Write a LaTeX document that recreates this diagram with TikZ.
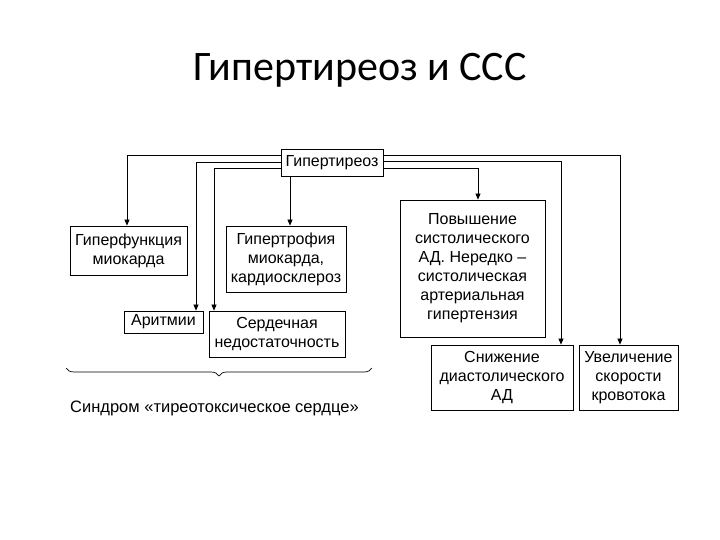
\documentclass[tikz,border=0pt]{standalone}
\usepackage{fontspec}
\setmainfont{Liberation Sans}
\newfontfamily\titlefont{Carlito}
\usetikzlibrary{arrows.meta,decorations.pathreplacing}
\begin{document}
\begin{tikzpicture}[x=1pt,y=-1pt,
  bx/.style={draw,line width=0.8pt,inner sep=0pt,align=center,font=\fontsize{16}{19}\selectfont},
  ar/.style={-{Triangle[length=6pt,width=5pt]},line width=0.7pt}]
\useasboundingbox (0,0) rectangle (720,540);
\node[font=\titlefont\fontsize{42}{46}\selectfont] (title) at (360,70) {Гипертиреоз и ССС};
\node[bx,minimum width=102pt,minimum height=27pt] (g) at (332,163) {Гипертиреоз};
\node[bx,minimum width=117pt,minimum height=49pt] (hf) at (128.5,250.5) {Гиперфункция\\миокарда};
\node[bx,minimum width=120pt,minimum height=66pt] (ht) at (286,259) {Гипертрофия\\миокарда,\\кардиосклероз};
\node[bx,minimum width=79pt,minimum height=22pt] (ar) at (163.5,322) {Аритмии};
\node[bx,minimum width=136pt,minimum height=46pt] (sn) at (277,334) {Сердечная\\недостаточность};
\node[bx,minimum width=145pt,minimum height=137pt] (pv) at (472.5,268.5) {Повышение\\систолического\\АД. Нередко –\\систолическая\\артериальная\\гипертензия};
\node[bx,minimum width=142pt,minimum height=65pt] (sd) at (502,377.5) {Снижение\\диастолического\\АД};
\node[bx,minimum width=99pt,minimum height=65pt] (uv) at (628.5,377.5) {Увеличение\\скорости\\кровотока};
\draw[ar] (g.west|-0,155) -| (hf.north-|127,0);
\draw[ar] (g.west|-0,162) -| (ar.north-|196,0);
\draw[ar] (g.west|-0,168) -| (sn.north-|214,0);
\draw[ar] (g.south-|290,0) -- (ht.north-|290,0);
\draw[ar] (g.east|-0,168) -| (pv.north-|478,0);
\draw[ar] (g.east|-0,161) -| (sd.north-|561,0);
\draw[ar] (g.east|-0,155) -| (uv.north-|620,0);
\coordinate (b1) at (66,368);
\coordinate (b2) at (372,368);
\draw[line width=0.7pt,decorate,decoration={brace,mirror,amplitude=8pt}] (b1) -- (b2);
\node[font=\fontsize{16.5}{19}\selectfont,anchor=west,inner sep=0pt] (syn) at (70,408) {Синдром «тиреотоксическое сердце»};
\end{tikzpicture}
\end{document}
